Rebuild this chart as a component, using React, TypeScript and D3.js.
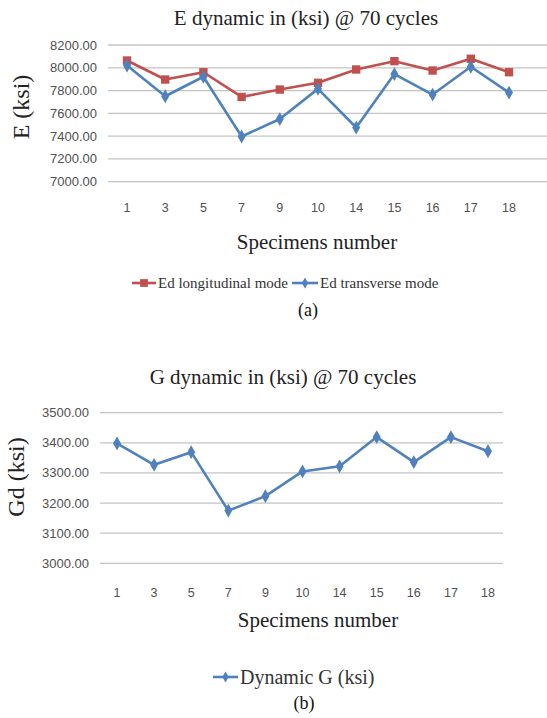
import React, { useEffect, useRef } from "react";
import * as d3 from "d3";

// specimens on the category axis (same for both charts)
const specimens = ["1", "3", "5", "7", "9", "10", "14", "15", "16", "17", "18"];

// (a) E dynamic, ksi
const edLongitudinal = [8064, 7897, 7961, 7744, 7809, 7868, 7985, 8058, 7976, 8079, 7961];
const edTransverse = [8020, 7750, 7921, 7397, 7550, 7815, 7476, 7945, 7765, 8009, 7782];
const eTicks = [7000, 7200, 7400, 7600, 7800, 8000, 8200];

// (b) G dynamic, ksi
const dynamicG = [3398, 3327, 3369, 3175, 3223, 3305, 3322, 3419, 3336, 3419, 3372];
const gTicks = [3000, 3100, 3200, 3300, 3400, 3500];

const RED = "#c0504d";
const BLUE = "#4f81bd";
const SERIF = "'Liberation Serif', 'Times New Roman', serif";
const SANS = "'Liberation Sans', Arial, sans-serif";

const App = () => {
  const ref = useRef<SVGSVGElement>(null);

  useEffect(() => {
    const svg = d3.select(ref.current);
    svg.selectAll("*").remove();

    const drawChart = (opts: any) => {
      const g = svg.append("g");
      const x = d3.scalePoint().domain(specimens).range([opts.xFirst, opts.xLast]);
      const y = d3.scaleLinear().domain([opts.ticks[0], opts.ticks[opts.ticks.length - 1]]).range([opts.yBottom, opts.yTop]);

      // gridlines
      g.selectAll(".grid").data(opts.ticks).join("line")
        .attr("x1", opts.gridLeft).attr("x2", opts.gridRight)
        .attr("y1", (d: number) => y(d)).attr("y2", (d: number) => y(d))
        .attr("stroke", "#c4c4c4").attr("stroke-width", 1.3);

      // y tick labels
      g.selectAll(".ylab").data(opts.ticks).join("text")
        .attr("x", opts.tickRight).attr("y", (d: number) => y(d))
        .attr("dy", "0.35em").attr("text-anchor", "end")
        .style("font-family", SANS).style("font-size", "13px").attr("fill", "#505050")
        .text((d: number) => d3.format(".2f")(d));

      // x tick labels
      g.selectAll(".xlab").data(specimens).join("text")
        .attr("x", (d: string) => x(d)!).attr("y", opts.xLabelY)
        .attr("dy", "0.35em").attr("text-anchor", "middle")
        .style("font-family", SANS).style("font-size", "12.5px").attr("fill", "#505050")
        .text((d: string) => d);

      // series
      opts.series.forEach((s: any) => {
        const line = d3.line<number>().x((_, i) => x(specimens[i])!).y((d) => y(d));
        g.append("path").datum(s.values).attr("d", line)
          .attr("fill", "none").attr("stroke", s.color).attr("stroke-width", 2.6)
          .attr("stroke-linejoin", "round");
        const sym = d3.symbol().type(s.marker === "square" ? d3.symbolSquare : d3.symbolDiamond).size(s.marker === "square" ? 70 : 55);
        g.selectAll(null).data(s.values).join("path")
          .attr("d", sym)
          .attr("transform", (d: any, i: number) => `translate(${x(specimens[i])}, ${y(d)})`)
          .attr("fill", s.color);
      });

      // titles
      g.append("text").attr("x", opts.titleX).attr("y", opts.titleY).attr("dy", "0.35em")
        .attr("text-anchor", "middle").style("font-family", SERIF).style("font-size", "21px")
        .attr("fill", "#222").text(opts.title);
      g.append("text").attr("x", opts.xTitleX).attr("y", opts.xTitleY).attr("dy", "0.35em")
        .attr("text-anchor", "middle").style("font-family", SERIF).style("font-size", "21px")
        .attr("fill", "#222").text("Specimens number");
      g.append("text")
        .attr("transform", `translate(${opts.yTitleX}, ${opts.yTitleY}) rotate(-90)`)
        .attr("dy", "0.35em").attr("text-anchor", "middle")
        .style("font-family", SERIF).style("font-size", opts.yTitleSize).attr("fill", "#222")
        .text(opts.yTitle);

      // legend
      opts.legend.forEach((l: any) => {
        g.append("line").attr("x1", l.x).attr("x2", l.x + l.w).attr("y1", opts.legendY).attr("y2", opts.legendY)
          .attr("stroke", l.color).attr("stroke-width", 2.6);
        g.append("path")
          .attr("d", d3.symbol().type(l.marker === "square" ? d3.symbolSquare : d3.symbolDiamond).size(l.marker === "square" ? 60 : 35))
          .attr("transform", `translate(${l.x + l.w / 2}, ${opts.legendY})`).attr("fill", l.color);
        g.append("text").attr("x", l.x + l.w + 2).attr("y", opts.legendY).attr("dy", "0.35em")
          .style("font-family", SERIF).style("font-size", opts.legendSize).attr("fill", "#333")
          .text(l.label);
      });

      g.append("text").attr("x", opts.captionX).attr("y", opts.captionY).attr("dy", "0.35em")
        .attr("text-anchor", "middle").style("font-family", SERIF).style("font-size", "18px")
        .attr("fill", "#111").text(opts.caption);
    };

    drawChart({
      ticks: eTicks, yTop: 45, yBottom: 181.7,
      xFirst: 127, xLast: 509, gridLeft: 108, gridRight: 547, tickRight: 97, xLabelY: 208,
      series: [
        { values: edLongitudinal, color: RED, marker: "square" },
        { values: edTransverse, color: BLUE, marker: "diamond" },
      ],
      title: "E dynamic in (ksi) @ 70 cycles", titleX: 306, titleY: 18,
      xTitleX: 317, xTitleY: 242,
      yTitle: "E (ksi)", yTitleX: 21, yTitleY: 107, yTitleSize: "24px",
      legendY: 283, legendSize: "15px",
      legend: [
        { x: 132, w: 24, color: RED, marker: "square", label: "Ed longitudinal mode" },
        { x: 292, w: 26, color: BLUE, marker: "diamond", label: "Ed transverse mode" },
      ],
      caption: "(a)", captionX: 308, captionY: 310,
    });

    drawChart({
      ticks: gTicks, yTop: 412.7, yBottom: 563.3,
      xFirst: 117, xLast: 488, gridLeft: 100, gridRight: 503, tickRight: 89, xLabelY: 592.5,
      series: [{ values: dynamicG, color: BLUE, marker: "diamond" }],
      title: "G dynamic in (ksi) @ 70 cycles", titleX: 283, titleY: 377,
      xTitleX: 318, xTitleY: 620,
      yTitle: "Gd (ksi)", yTitleX: 16, yTitleY: 477, yTitleSize: "24px",
      legendY: 677, legendSize: "20px",
      legend: [{ x: 213, w: 25, color: BLUE, marker: "diamond", label: "Dynamic G (ksi)" }],
      caption: "(b)", captionX: 304, captionY: 703,
    });
  }, []);

  return (
    <svg ref={ref} width={547} height={718}
      style={{ position: "absolute", left: 0, top: 0, background: "#fff" }} />
  );
};

export default App;
